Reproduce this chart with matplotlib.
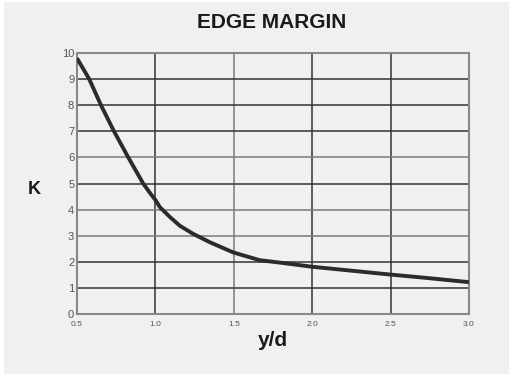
import matplotlib.pyplot as plt
from matplotlib.patches import Rectangle

plt.rcParams['font.family'] = ['Liberation Sans', 'DejaVu Sans']

# curve
yd = [0.5, 0.578, 0.653, 0.736, 0.827, 0.922, 0.97, 1.0, 1.029, 1.092, 1.156,
      1.241, 1.347, 1.496, 1.666, 1.793, 2.0, 2.25, 2.5, 2.75, 3.0]
k = [9.8, 9.0, 8.0, 7.0, 6.0, 5.0, 4.6, 4.37, 4.09, 3.72, 3.38,
     3.07, 2.75, 2.36, 2.06, 1.97, 1.81, 1.66, 1.51, 1.37, 1.22]

x_ticks = [0.5, 1.0, 1.5, 2.0, 2.5, 3.0]
y_ticks = list(range(0, 11))
light_x = [1.5]
light_y = [3, 4, 6]

fig = plt.figure(figsize=(5.13, 3.78), dpi=100)
fig.patch.set_facecolor('white')
bg = Rectangle((4 / 513, 1 - 374 / 378), 505 / 513, 372 / 378,
               transform=fig.transFigure, facecolor='#eef0f2',
               edgecolor='none', zorder=-10)
fig.add_artist(bg)

ax = fig.add_axes([77 / 513, 1 - 314 / 378, 392 / 513, 261 / 378])
ax.set_zorder(5)
ax.set_facecolor('#eef0f2')

ax.plot(yd, k, color='#2b2b2b', lw=2.8, solid_capstyle='butt', zorder=3)

ax.set_xlim(0.5, 3.0)
ax.set_ylim(0, 10)
ax.set_xticks(x_ticks)
ax.set_xticklabels([f"{v:.1f}" for v in x_ticks])
ax.set_yticks(y_ticks)
ax.tick_params(axis='x', labelsize=6, colors='#555555', length=0, pad=5)
ax.tick_params(axis='y', labelsize=8, colors='#555555', length=0, pad=2)
ax.grid(True, color='#333333', lw=1.1, zorder=1)
for v, gl in zip(x_ticks, ax.xaxis.get_gridlines()):
    if v in light_x:
        gl.set_color('#7a7a7a')
for v, gl in zip(y_ticks, ax.yaxis.get_gridlines()):
    if v in light_y:
        gl.set_color('#7a7a7a')
for s in ax.spines.values():
    s.set_color('#888888')
    s.set_linewidth(1.5)

fig.text(272 / 513, 1 - 22 / 378, 'EDGE MARGIN', ha='center', va='center',
         fontsize=15, fontweight='bold', color='#1a1a1a')
fig.text(34.5 / 513, 1 - 189 / 378, 'K', ha='center', va='center',
         fontsize=13, fontweight='bold', color='#1a1a1a')
fig.text(273 / 513, 1 - 341 / 378, 'y/d', ha='center', va='center',
         fontsize=15, fontweight='bold', color='#1a1a1a')

plt.savefig('out.png', dpi=100)
